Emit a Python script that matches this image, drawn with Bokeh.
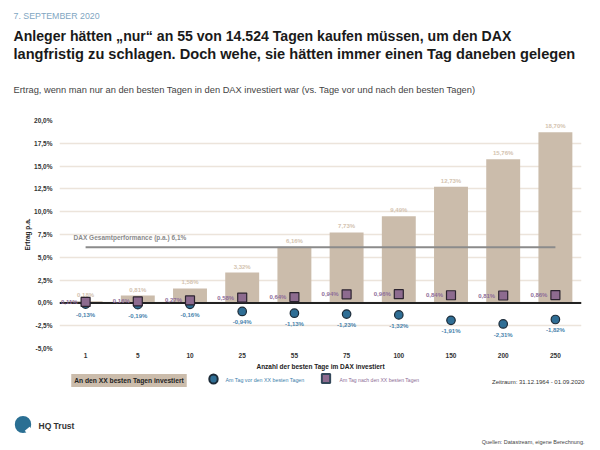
from bokeh.plotting import figure
from bokeh.layouts import column
from bokeh.models import FactorRange, Range1d, FixedTicker, CustomJSTickFormatter, Span, Label, ColumnDataSource
from bokeh.core.properties import value
from bokeh.embed import file_html
from bokeh.resources import INLINE

# ---------------- data ----------------
categories = ["1", "5", "10", "25", "55", "75", "100", "150", "200", "250"]
best_days = [0.18, 0.81, 1.58, 3.32, 6.16, 7.73, 9.49, 12.73, 15.76, 18.70]
day_before = [-0.13, -0.19, -0.16, -0.94, -1.13, -1.23, -1.32, -1.91, -2.31, -1.82]
day_after = [0.11, 0.16, 0.27, 0.58, 0.64, 0.94, 0.96, 0.84, 0.81, 0.86]
dax_total = 6.1
y_ticks = [-5, -2.5, 0, 2.5, 5, 7.5, 10, 12.5, 15, 17.5, 20]


def pct(v, d=2):
    return f"{v:.{d}f}".replace(".", ",") + "%"


FONT = "Liberation Sans"
W = 600
H_HEAD = 108
H_MAIN = 264
H_FOOT = 450 - H_HEAD - H_MAIN
TAN = "#cbbcab"
BLUE = "#2f6e95"
PURPLE = "#8d6b8f"


def blank(height, top):
    f = figure(width=W, height=height, x_range=Range1d(0, W),
               y_range=Range1d(top + height, top), output_backend="svg",
               toolbar_location=None, x_axis_location=None, y_axis_location=None,
               min_border=0)
    f.frame_align = False
    f.outline_line_color = None
    f.xgrid.grid_line_color = None
    f.ygrid.grid_line_color = None
    return f


def lab(f, rx, ry, text, size, color="#222222", style="normal", align="left",
        baseline="middle", **kw):
    f.add_layout(Label(x=rx, y=ry, text=text, text_align=align, text_baseline=baseline,
                       text_color=color, text_font=FONT, text_font_size=size,
                       text_font_style=style, **kw))


# ---------------- header ----------------
head = blank(H_HEAD, 0)
lab(head, 13, 15, "7. SEPTEMBER 2020", "8.8px", color="#7fa6c2", baseline="alphabetic")
lab(head, 13, 35.5, "Anleger hätten „nur“ an 55 von 14.524 Tagen kaufen müssen, um den DAX",
    "14.1px", style="bold", color="#1a1a1a", baseline="alphabetic")
lab(head, 13, 53, "langfristig zu schlagen. Doch wehe, sie hätten immer einen Tag daneben gelegen",
    "14.6px", style="bold", color="#1a1a1a", baseline="alphabetic")
lab(head, 13, 89.5, "Ertrag, wenn man nur an den besten Tagen in den DAX investiert war (vs. Tage vor und nach den besten Tagen)",
    "9.3px", color="#444444", baseline="alphabetic")

# ---------------- main chart ----------------
p = figure(width=W, height=H_MAIN, x_range=FactorRange(factors=categories),
           y_range=Range1d(-5, 20), output_backend="svg", toolbar_location=None,
           min_border_left=59, min_border_right=19, min_border_top=12, min_border_bottom=24)
p.frame_align = False
p.x_range.range_padding = 0
p.outline_line_color = None

p.xaxis.axis_line_color = None
p.xaxis.major_tick_line_color = None
p.xaxis.major_tick_out = 0
p.xaxis.major_tick_in = 0
p.xaxis.major_label_text_font = FONT
p.xaxis.major_label_text_font_size = "6.5px"
p.xaxis.major_label_text_font_style = "bold"
p.xaxis.major_label_text_color = "#333333"
p.xaxis.major_label_standoff = 4
p.xaxis.axis_label = "Anzahl der besten Tage im DAX investiert"
p.xaxis.axis_label_text_font = FONT
p.xaxis.axis_label_text_font_size = "6.5px"
p.xaxis.axis_label_text_font_style = "bold"
p.xaxis.axis_label_text_color = "#222222"
p.xaxis.axis_label_standoff = 2

p.yaxis.ticker = FixedTicker(ticks=y_ticks)
p.yaxis.formatter = CustomJSTickFormatter(code="return tick.toFixed(1).replace('.', ',') + '%';")
p.yaxis.axis_line_color = None
p.yaxis.major_tick_line_color = None
p.yaxis.minor_tick_line_color = None
p.yaxis.major_tick_out = 0
p.yaxis.major_tick_in = 0
p.yaxis.major_label_text_font = FONT
p.yaxis.major_label_text_font_size = "6.5px"
p.yaxis.major_label_text_font_style = "bold"
p.yaxis.major_label_text_color = "#333333"
p.yaxis.major_label_standoff = 7
p.yaxis.axis_label = "Ertrag p.a."
p.yaxis.axis_label_text_font = FONT
p.yaxis.axis_label_text_font_size = "6.5px"
p.yaxis.axis_label_text_font_style = "bold"
p.yaxis.axis_label_text_color = "#222222"
p.yaxis.axis_label_standoff = 0

p.xgrid.grid_line_color = None
p.ygrid.grid_line_color = "#ece4db"
p.ygrid.grid_line_width = 1.5

src = ColumnDataSource(dict(
    cat=categories, best=best_days, before=day_before, after=day_after,
    best_lbl=[pct(v) for v in best_days],
    before_lbl=[pct(v) for v in day_before],
    after_lbl=[pct(v) for v in day_after],
))

p.vbar(x="cat", top="best", width=0.65, source=src, fill_color=TAN, line_color=None)
p.line(x=[categories[0], categories[-1]], y=[dax_total, dax_total], line_color="#8b8b8b", line_width=2)
p.add_layout(Span(location=0, dimension="width", line_color="#222222", line_width=2, level="glyph"))

p.scatter(x="cat", y="before", source=src, marker="circle", size=8.5, fill_color=BLUE,
          line_color="#1c2b38", line_width=1.2, level="overlay")
p.scatter(x="cat", y="after", source=src, marker="square", size=9, fill_color=PURPLE,
          line_color="#2c2430", line_width=1.2, level="overlay")

p.text(x="cat", y="best", text="best_lbl", source=src, y_offset=-3, text_align="center",
       text_baseline="bottom", text_color="#d3c3b0", text_font=value(FONT),
       text_font_size="6px", text_font_style="bold")
p.text(x="cat", y="after", text="after_lbl", source=src, x_offset=-8, text_align="right",
       text_baseline="middle", text_color="#8e6d99", text_font=value(FONT),
       text_font_size="6px", text_font_style="bold", level="overlay")
p.text(x="cat", y="before", text="before_lbl", source=src, y_offset=11, text_align="center",
       text_baseline="middle", text_color="#4a84ad", text_font=value(FONT),
       text_font_size="6px", text_font_style="bold", level="overlay")

p.add_layout(Label(x=0.27, y=dax_total, y_offset=10, text="DAX Gesamtperformance (p.a.)  " + pct(dax_total, 1),
                   text_align="left", text_baseline="middle", text_color="#8a8a8a",
                   text_font=FONT, text_font_size="6.5px", text_font_style="bold"))

# ---------------- footer ----------------
top_f = H_HEAD + H_MAIN
foot = blank(H_FOOT, top_f)
lab(foot, 128.5, 380, "An den XX besten Tagen investiert", "6.7px", style="bold", align="center",
    background_fill_color=TAN, padding=3)
lab(foot, 213, 378.5, " ", "1px", background_fill_color=BLUE, border_line_color="#1c2b38",
    border_line_width=2, padding=4, border_radius=6, align="center")
lab(foot, 225, 379, "Am Tag vor den XX besten Tagen", "5.3px", color="#3c7eab")
lab(foot, 325.5, 378, " ", "1px", background_fill_color=PURPLE, border_line_color="#34485a",
    border_line_width=2, padding=4, align="center")
lab(foot, 339, 379, "Am Tag nach den XX besten Tagen", "5.1px", color="#8c6b96")
lab(foot, 491.5, 381.5, "Zeitraum: 31.12.1964 - 01.09.2020", "6px", color="#333333")
lab(foot, 22.5, 424, " ", "1px", background_fill_color="#2a6f93", border_line_color=None,
    padding=8, border_radius=9, align="center")
lab(foot, 29, 431, " ", "1px", background_fill_color="#ffffff", border_line_color=None,
    padding=3, align="center", angle=0.7)
lab(foot, 38, 425, "HQ Trust", "8.5px", style="bold", color="#333333")
lab(foot, 584, 441, "Quellen: Datastream, eigene Berechnung.", "5.5px", color="#444444", align="right")

layout = column(head, p, foot, spacing=0)
open("out.html", "w").write(file_html(layout, INLINE))
